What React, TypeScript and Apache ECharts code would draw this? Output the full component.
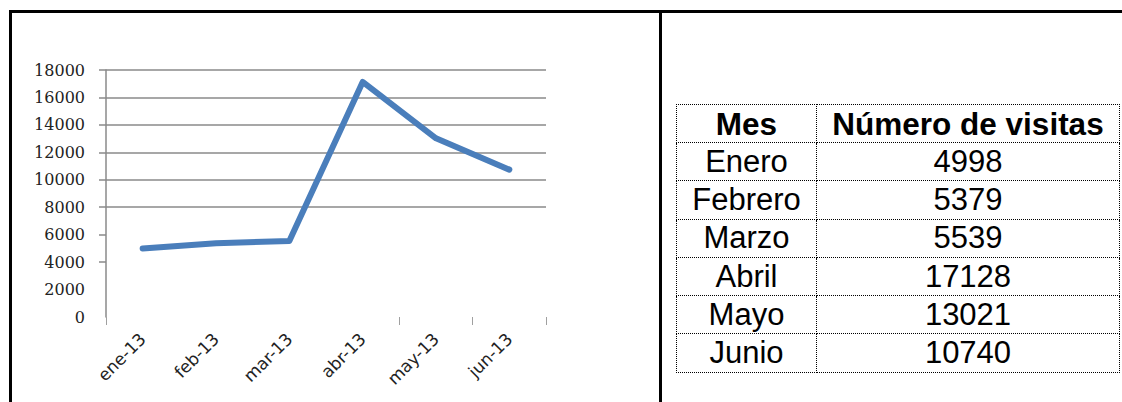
import React, { useEffect, useRef } from "react";
import * as echarts from "echarts";

const categories = ["ene-13", "feb-13", "mar-13", "abr-13", "may-13", "jun-13"];
const visits = [4998, 5379, 5539, 17128, 13021, 10740];
const yTickLabels = [0, 2000, 4000, 6000, 8000, 10000, 12000, 14000, 16000, 18000];
const yVisibleTicks = [4000, 6000, 8000, 10000, 12000, 14000, 16000, 18000];
const tableHeader = ["Mes", "Número de visitas"];
const months = ["Enero", "Febrero", "Marzo", "Abril", "Mayo", "Junio"];

function Chart() {
  const ref = useRef<HTMLDivElement>(null);
  useEffect(() => {
    if (!ref.current) return;
    const chart = echarts.init(ref.current, null, { renderer: "svg" });
    const gridColor = "#8a8a8a";
    const splitColors = yTickLabels.map((v) => (yVisibleTicks.indexOf(v) >= 0 ? gridColor : "rgba(0,0,0,0)"));
    chart.setOption({
      animation: false,
      grid: { left: 106, top: 70, width: 440, height: 247, containLabel: false },
      xAxis: {
        type: "category",
        data: categories,
        boundaryGap: true,
        axisLine: { show: false },
        axisTick: {
          show: true,
          length: 8,
          interval: (i: number) => i === 0 || i >= 4,
          lineStyle: { color: "#a0a0a0", width: 1 },
        },
        axisLabel: {
          rotate: 45,
          margin: 19,
          interval: 0,
          fontFamily: "DejaVu Sans",
          fontSize: 17,
          color: "#222",
        },
        splitLine: { show: false },
      },
      yAxis: {
        type: "value",
        min: 0,
        max: 18000,
        interval: 2000,
        axisLine: { show: true, lineStyle: { color: gridColor, width: 1.5 } },
        axisTick: {
          show: true,
          length: 7,
          customValues: yVisibleTicks,
          lineStyle: { color: gridColor, width: 1.5 },
        },
        axisLabel: {
          margin: 21,
          formatter: (v: number) => String(v),
          fontFamily: "DejaVu Serif",
          fontSize: 16,
          color: "#222",
        },
        splitLine: { show: true, lineStyle: { color: splitColors, width: 1.5 } },
      },
      series: [
        {
          type: "line",
          data: visits,
          symbol: "none",
          lineStyle: { color: "#4a7ebb", width: 6, cap: "round", join: "round" },
        },
      ],
    });
    return () => chart.dispose();
  }, []);
  return <div ref={ref} style={{ width: 660, height: 402, position: "absolute", left: 0, top: 0 }} />;
}

export default function App() {
  const cellBorder = "1px dotted #000";
  const cell: React.CSSProperties = {
    border: cellBorder,
    padding: 0,
    textAlign: "center",
    verticalAlign: "middle",
    fontFamily: "'Liberation Sans', Arial, sans-serif",
    fontSize: 31,
    lineHeight: "34px",
    color: "#000",
  };
  return (
    <div style={{ position: "absolute", left: 0, top: 0, width: 1122, height: 402, background: "#fff", overflow: "hidden" }}>
      <Chart />
      <div style={{ position: "absolute", left: 9, top: 10, width: 1200, height: 3, background: "#000" }} />
      <div style={{ position: "absolute", left: 9, top: 10, width: 3, height: 400, background: "#000" }} />
      <div style={{ position: "absolute", left: 659, top: 10, width: 3, height: 400, background: "#000" }} />
      <table
        style={{
          position: "absolute",
          left: 676,
          top: 104,
          width: 443,
          borderCollapse: "collapse",
          tableLayout: "fixed",
        }}
      >
        <colgroup>
          <col style={{ width: 140 }} />
          <col style={{ width: 303 }} />
        </colgroup>
        <tbody>
          <tr style={{ height: 38 }}>
            <td style={{ ...cell, fontWeight: "bold", fontSize: 31.5 }}>{tableHeader[0]}</td>
            <td style={{ ...cell, fontWeight: "bold", fontSize: 31.5 }}>{tableHeader[1]}</td>
          </tr>
          {months.map((m, i) => (
            <tr key={m} style={{ height: 38.3 }}>
              <td style={cell}>{m}</td>
              <td style={cell}>{visits[i]}</td>
            </tr>
          ))}
        </tbody>
      </table>
    </div>
  );
}
